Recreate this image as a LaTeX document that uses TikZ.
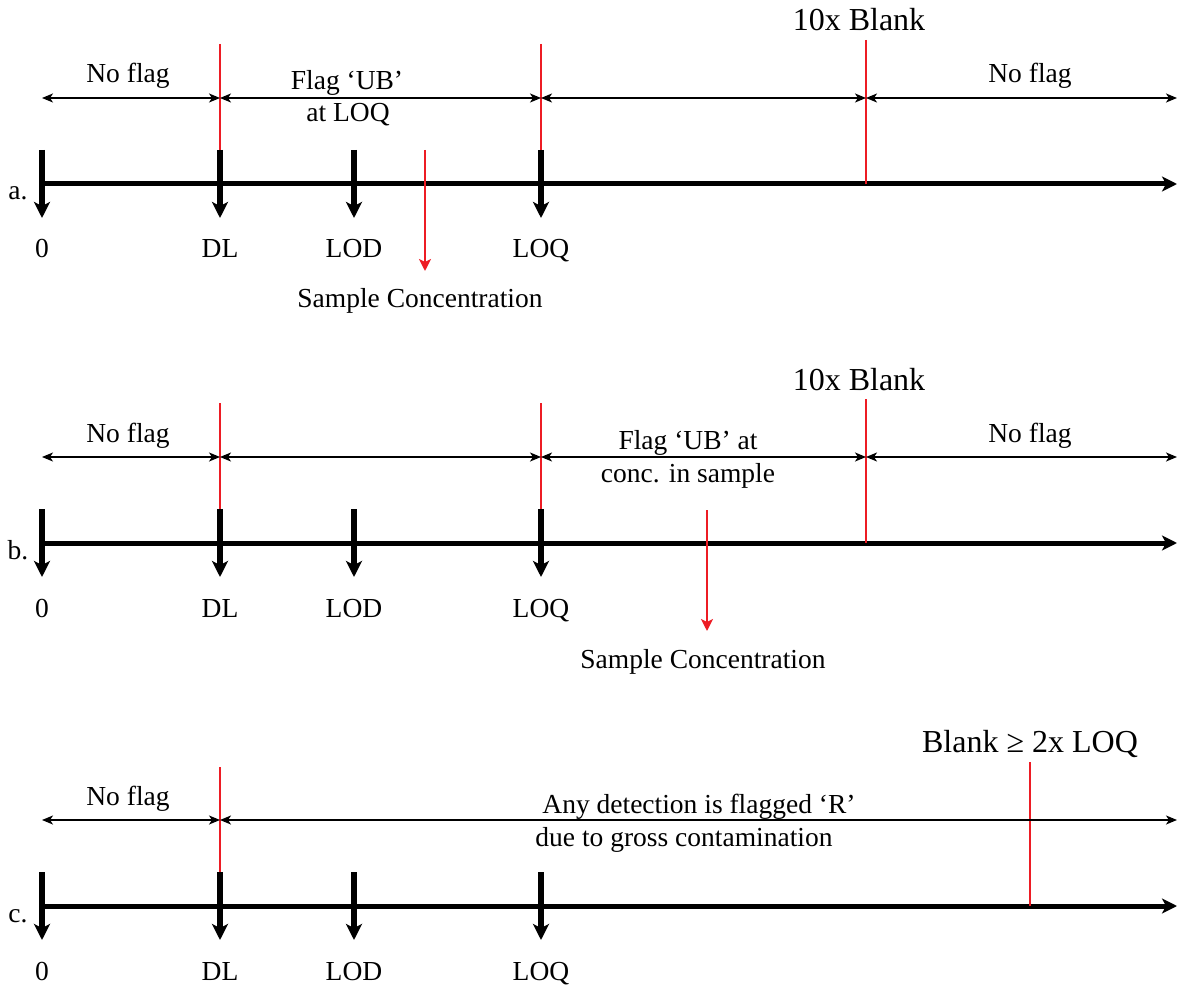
\documentclass[tikz,border=0pt]{standalone}
\usepackage{fontspec}
\setmainfont{Liberation Serif}
\usetikzlibrary{arrows.meta}
\definecolor{lred}{RGB}{237,28,36}
\begin{document}
\begin{tikzpicture}[x=1pt,y=-1pt,
  axis/.style={line width=5pt,-{Stealth[length=15pt,width=15pt,inset=4pt]}},
  tickarr/.style={line width=5.5pt,-{Stealth[length=16pt,width=16pt,inset=4pt]}},
  rng/.style={line width=1.8pt,{Stealth[length=11pt,width=9pt,inset=3pt]}-{Stealth[length=11pt,width=9pt,inset=3pt]}},
  redl/.style={draw=lred,line width=2.8pt},
  redarr/.style={draw=lred,line width=2.6pt,-{Stealth[length=12pt,width=12pt,inset=3pt]}},
  lbl/.style={font=\fontsize{27.5}{30}\selectfont,inner sep=0pt},
  big/.style={font=\fontsize{32}{34}\selectfont,inner sep=0pt}
]
\useasboundingbox (0,0) rectangle (1179,987);

\foreach \r/\y/\lab in {a/184/a., b/543/b., c/906/c.} {
  \coordinate (\r-s) at (42,\y);
  \coordinate (\r-e) at (1177,\y);
  \draw[axis] (\r-s) -- (\r-e);
  \node[lbl,anchor=base] (\r-name) at (18,\y+16) {\lab};
  \foreach \n/\x/\t in {0/42/0, 1/220/DL, 2/354/LOD, 3/541/LOQ} {
    \coordinate (\r-t\n) at (\x,\y-34);
    \coordinate (\r-b\n) at (\x,\y+34);
    \draw[tickarr] (\r-t\n) -- (\r-b\n);
    \node[lbl,anchor=base] (\r-l\n) at (\x,\y+74) {\t};
  }
}

% ---------- row a ----------
\coordinate (a-r1) at (220,44);
\coordinate (a-r3) at (541,44);
\coordinate (a-r4t) at (866,40);
\coordinate (a-r4b) at (866,184);
\draw[redl] (a-r1) -- (a-t1);
\draw[redl] (a-r3) -- (a-t3);
\draw[redl] (a-r4t) -- (a-r4b);
\coordinate (a-st) at (425,150);
\coordinate (a-sb) at (425,271);
\draw[redarr] (a-st) -- (a-sb);
\foreach \n/\x in {0/42, 1/220, 2/541, 3/866, 4/1177} {
  \coordinate (a-p\n) at (\x,98);
}
\draw[rng] (a-p0) -- (a-p1);
\draw[rng] (a-p1) -- (a-p2);
\draw[rng] (a-p2) -- (a-p3);
\draw[rng] (a-p3) -- (a-p4);
\node[lbl,anchor=base] (a-nf1) at (128,83) {No flag};
\node[lbl,anchor=base] (a-fl1) at (347,90) {Flag ‘UB’};
\node[lbl,anchor=base] (a-fl2) at (348,122) {at LOQ};
\node[big,anchor=base] (a-blank) at (859,31) {10x Blank};
\node[lbl,anchor=base] (a-nf2) at (1030,83) {No flag};
\node[lbl,anchor=base] (a-sc) at (420,308) {Sample Concentration};

% ---------- row b ----------
\coordinate (b-r1) at (220,403);
\coordinate (b-r3) at (541,403);
\coordinate (b-r4t) at (866,399);
\coordinate (b-r4b) at (866,543);
\draw[redl] (b-r1) -- (b-t1);
\draw[redl] (b-r3) -- (b-t3);
\draw[redl] (b-r4t) -- (b-r4b);
\coordinate (b-st) at (707,510);
\coordinate (b-sb) at (707,631);
\draw[redarr] (b-st) -- (b-sb);
\foreach \n/\x in {0/42, 1/220, 2/541, 3/866, 4/1177} {
  \coordinate (b-p\n) at (\x,457);
}
\draw[rng] (b-p0) -- (b-p1);
\draw[rng] (b-p1) -- (b-p2);
\draw[rng] (b-p2) -- (b-p3);
\draw[rng] (b-p3) -- (b-p4);
\node[lbl,anchor=base] (b-nf1) at (128,442) {No flag};
\node[lbl,anchor=base] (b-fl1) at (688,449) {Flag ‘UB’ at};
\node[lbl,anchor=base] (b-fl2) at (688,482) {conc. in sample};
\node[big,anchor=base] (b-blank) at (859,390) {10x Blank};
\node[lbl,anchor=base] (b-nf2) at (1030,442) {No flag};
\node[lbl,anchor=base] (b-sc) at (703,668) {Sample Concentration};

% ---------- row c ----------
\coordinate (c-r1) at (220,767);
\coordinate (c-r4t) at (1030,762);
\coordinate (c-r4b) at (1030,906);
\draw[redl] (c-r1) -- (c-t1);
\draw[redl] (c-r4t) -- (c-r4b);
\foreach \n/\x in {0/42, 1/220, 2/1177} {
  \coordinate (c-p\n) at (\x,820);
}
\draw[rng] (c-p0) -- (c-p1);
\draw[rng] (c-p1) -- (c-p2);
\node[lbl,anchor=base] (c-nf1) at (128,805) {No flag};
\node[lbl,anchor=base] (c-any1) at (699,813) {Any detection is flagged ‘R’};
\node[lbl,anchor=base] (c-any2) at (684,846) {due to gross contamination};
\node[big,anchor=base] (c-blank) at (1030,752) {Blank ≥ 2x LOQ};
\end{tikzpicture}
\end{document}
